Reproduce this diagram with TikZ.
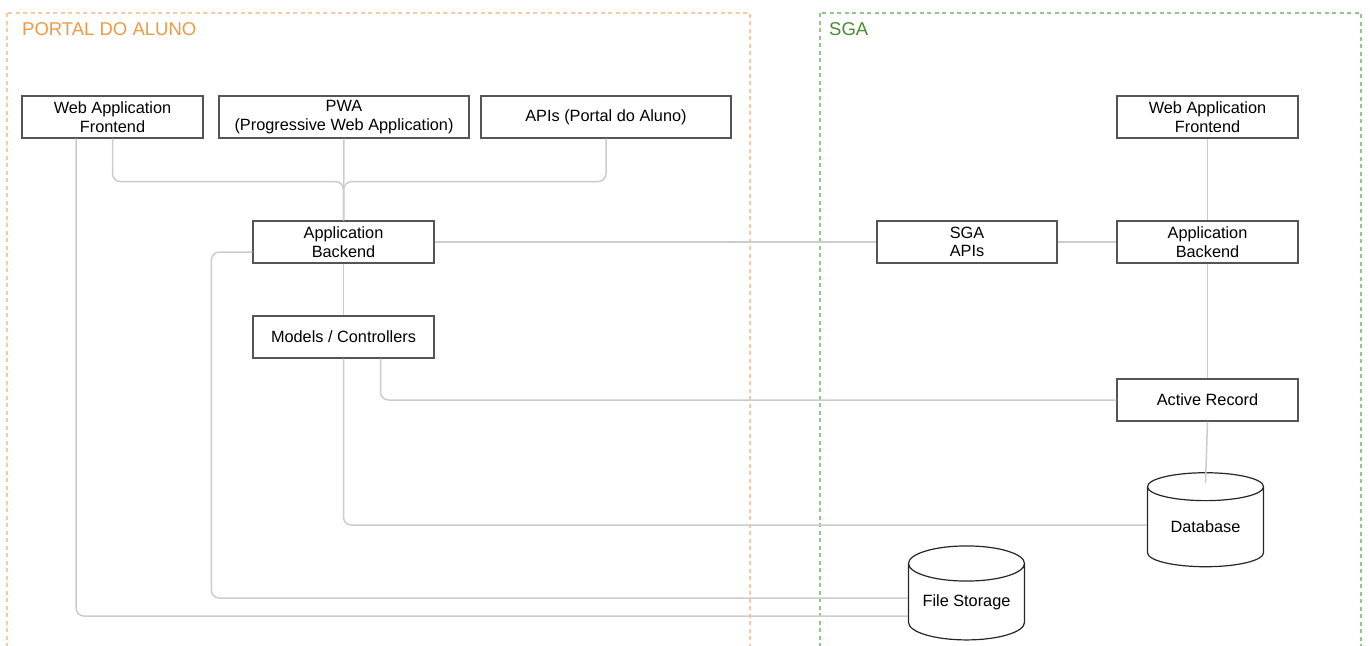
\documentclass[tikz,border=0pt]{standalone}
\usepackage{fontspec}
\setmainfont{Liberation Sans}
\usetikzlibrary{shapes.geometric,calc}
\definecolor{boxline}{HTML}{555555}
\definecolor{conncol}{HTML}{CCCCCC}
\definecolor{orgline}{HTML}{F8C9A2}
\definecolor{orgtext}{HTML}{EE9A45}
\definecolor{grnline}{HTML}{96C687}
\definecolor{grntext}{HTML}{4A8A30}
\tikzset{
  box/.style={draw=boxline, line width=1.3pt, fill=white, minimum height=42, inner sep=0pt, align=center, font=\fontsize{16.3}{18.5}\selectfont},
  dbshape/.style={cylinder, shape border rotate=90, draw=black!85, line width=1.2pt, fill=white, aspect=0.4, minimum width=116, minimum height=94, inner sep=0pt, font=\fontsize{16.3}{18.5}\selectfont},
  conn/.style={draw=conncol, line width=1.5pt, rounded corners=8pt},
  grp/.style={line width=1.5pt, dash pattern=on 4pt off 3.5pt},
  grptitle/.style={anchor=west, inner sep=0pt, font=\fontsize{18.5}{20}\selectfont}
}
\begin{document}
\begin{tikzpicture}[x=1pt, y=-1pt]
\useasboundingbox (0,0) rectangle (1370,645);
\draw[grp, orgline] (7,13) rectangle (750,660);
\draw[grp, grnline] (820,13) rectangle (1361,660);
\node[grptitle, text=orgtext] (t1) at (22,29) {PORTAL DO ALUNO};
\node[grptitle, text=grntext] (t2) at (829,29) {SGA};

\node[box, minimum width=181] (waf1) at (112.5,117) {Web Application\\Frontend};
\node[box, minimum width=250] (pwa) at (344,117) {PWA\\(Progressive Web Application)};
\node[box, minimum width=250] (apis) at (606,117) {APIs (Portal do Aluno)};
\node[box, minimum width=181] (ab1) at (343.5,242) {Application\\Backend};
\node[box, minimum width=181] (mc) at (343.5,337) {Models / Controllers};
\node[box, minimum width=180] (sgaapi) at (967,242) {SGA\\APIs};
\node[box, minimum width=181] (ab2) at (1207.5,242) {Application\\Backend};
\node[box, minimum width=181] (waf2) at (1207.5,117) {Web Application\\Frontend};
\node[box, minimum width=181] (ar) at (1207.5,400) {Active Record};
\node[dbshape] (db) at (1205.5,527) {Database};
\node[dbshape] (fs) at (966.5,602) {File Storage};

\draw[conn] (waf1.south) -- ++(0,43) -| (ab1.north);
\draw[conn] (apis.south) -- ++(0,43) -| (ab1.north);
\draw[conn] (pwa.south) -- (ab1.north);
\draw[conn] ([xshift=-36.5pt]waf1.south) |- ([yshift=-14pt]fs.west);
\draw[conn] ([yshift=-10pt]ab1.west) -- ++(-41,0) |- ([yshift=4pt]fs.west);
\draw[conn] (ab1.east) -- (sgaapi.west);
\draw[conn] (sgaapi.east) -- (ab2.west);
\draw[conn] (waf2.south) -- (ab2.north);
\draw[conn] (ab2.south) -- (ar.north);
\draw[conn] (ab1.south) -- (mc.north);
\draw[conn] (mc.south) |- ([yshift=2pt]db.west);
\draw[conn] ([xshift=37pt]mc.south) |- (ar.west);
\draw[conn] (ar.south) -- ([yshift=-11pt]db.north);
\end{tikzpicture}
\end{document}
